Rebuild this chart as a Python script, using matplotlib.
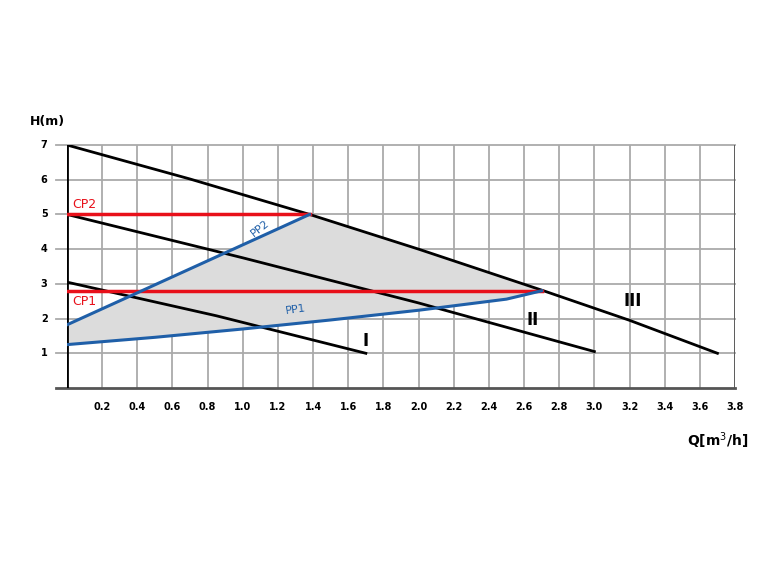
import matplotlib
matplotlib.use("Agg")
import matplotlib.pyplot as plt
import numpy as np

q_III = [0.0, 0.7, 1.38, 2.0, 2.7, 3.2, 3.7]; h_III = [7.0, 6.02, 5.0, 4.0, 2.82, 1.95, 1.0]
q_II = [0.0, 1.0, 2.0, 3.0]; h_II = [5.0, 3.75, 2.45, 1.05]
q_I = [0.0, 0.85, 1.7]; h_I = [3.05, 2.08, 1.0]
q_CP2 = [0.0, 1.38]; h_CP2 = [5.0, 5.0]
q_CP1 = [0.0, 2.7]; h_CP1 = [2.8, 2.8]
q_PP2 = [0.0, 1.38]; h_PP2 = [1.82, 5.0]
q_PP1 = [0.0, 0.5, 1.0, 1.5, 2.0, 2.5, 2.7]
h_PP1 = [1.25, 1.46, 1.7, 1.96, 2.24, 2.56, 2.8]
xticks = [0.2, 0.4, 0.6, 0.8, 1.0, 1.2, 1.4, 1.6, 1.8, 2.0, 2.2, 2.4, 2.6, 2.8, 3.0, 3.2, 3.4, 3.6, 3.8]
yticks = [1, 2, 3, 4, 5, 6, 7]

fig = plt.figure(figsize=(7.74, 5.70), dpi=100)
ax = fig.add_axes([67/774, 182/570, 668/774, 243/570])
ax.set_xlim(0, 3.8); ax.set_ylim(0, 7)
for s in ax.spines.values():
    s.set_visible(False)

for x in xticks:
    ax.plot([x, x], [0, 7], color='#aaaaaa', lw=1.3, zorder=1)
for y in yticks:
    ax.plot([-0.06, 3.8], [y, y], color='#aaaaaa', lw=1.3, zorder=1, clip_on=False)
ax.plot([-0.06, 3.8], [0, 0], color='#555555', lw=2, clip_on=False, zorder=2)
ax.plot([0, 0], [0, 7], color='black', lw=2, zorder=2)
ax.plot([3.8, 3.8], [0, 7], color='#555555', lw=2, zorder=2)

# shaded region: PP1 -> III -> PP2
xs = list(q_PP1) + [q for q in q_III if 1.38 <= q <= 2.7][::-1] + [q_PP2[0]]
ys = list(h_PP1) + [h for q, h in zip(q_III, h_III) if 1.38 <= q <= 2.7][::-1] + [h_PP2[0]]
ax.fill(xs, ys, color='#dcdcdc', zorder=1.5, lw=0)

for q, h in [(q_III, h_III), (q_II, h_II), (q_I, h_I)]:
    ax.plot(q, h, color='black', lw=2, zorder=3)
ax.plot(q_CP2, h_CP2, color='#e8101a', lw=2.5, zorder=4)
ax.plot(q_CP1, h_CP1, color='#e8101a', lw=2.5, zorder=4)
ax.plot(q_PP2, h_PP2, color='#1f5fa8', lw=2.2, zorder=4)
ax.plot(q_PP1, h_PP1, color='#1f5fa8', lw=2.2, zorder=4)

fs = dict(fontweight='bold', family='DejaVu Sans')
ax.text(0.03, 5.1, 'CP2', color='#e8101a', fontsize=9, va='bottom')
ax.text(0.03, 2.68, 'CP1', color='#e8101a', fontsize=9, va='top')
ax.text(1.1, 4.6, 'PP2', color='#1f5fa8', fontsize=8, rotation=38, ha='center', va='center')
ax.text(1.3, 2.25, 'PP1', color='#1f5fa8', fontsize=8, rotation=8, ha='center', va='center')
ax.text(1.7, 1.35, 'I', fontsize=12, ha='center', va='center', **fs)
ax.text(2.65, 1.95, 'II', fontsize=12, ha='center', va='center', **fs)
ax.text(3.22, 2.5, 'III', fontsize=12, ha='center', va='center', **fs)

ax.set_xticks([]); ax.set_yticks([])
for x in xticks:
    ax.text(x, -0.55, f'{x:.1f}', ha='center', va='center', fontsize=7, fontweight='bold')
for y in yticks:
    ax.text(-0.13, y, str(y), ha='center', va='center', fontsize=7, fontweight='bold')
fig.text(30/774, 1-122/570, 'H(m)', fontsize=9, fontweight='bold', va='center')
fig.text(748/774, 1-441/570, r'Q[m$^3$/h]', fontsize=10, fontweight='bold', ha='right', va='center')
fig.savefig('out.png', dpi=100)
